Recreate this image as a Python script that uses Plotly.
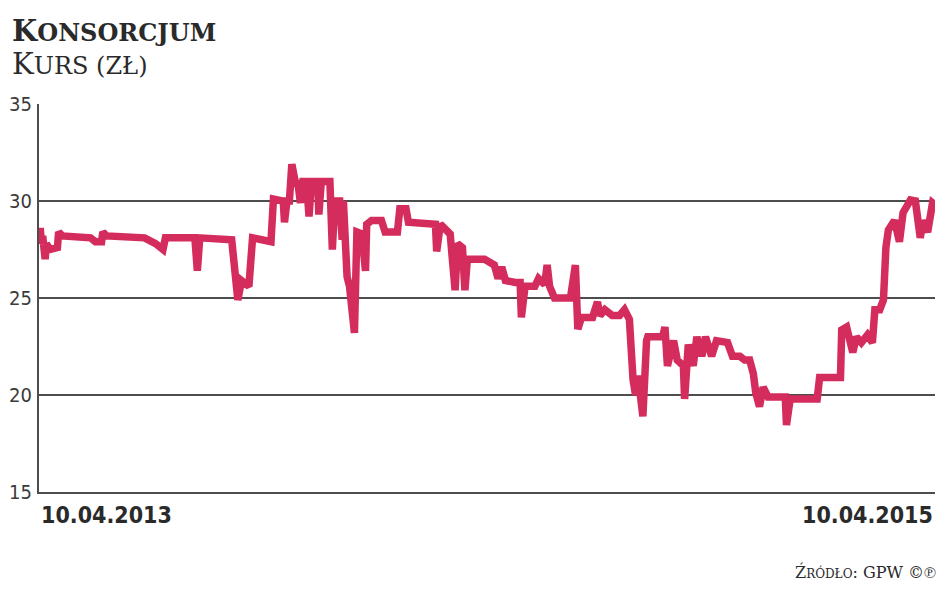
import plotly.graph_objects as go
from datetime import date, timedelta

# ---- data ----
start_date = date(2013, 4, 10)
day_offsets = [
    0, 1, 2, 3, 5, 6, 9, 15, 16, 19, 42, 46, 51, 52, 55, 86, 95, 101, 103,
    127, 129, 131, 157, 160, 162, 165, 171, 174, 184, 189, 191, 199, 200, 202,
    204, 206, 209, 211, 213, 215, 218, 220, 222, 227, 228, 230, 237, 239, 241,
    245, 247, 248, 251, 253, 257, 259, 263, 266, 267, 271, 279, 282, 292, 294,
    299, 301, 323, 324, 327, 335, 339, 341, 345, 347, 349, 363, 371, 374, 377,
    380, 388, 392, 393, 396, 404, 407, 412, 414, 416, 420, 433, 437, 439, 442,
    451, 455, 457, 461, 467, 473, 477, 481, 484, 486, 488, 490, 492, 495, 496,
    508, 510, 512, 517, 520, 525, 526, 529, 533, 536, 540, 543, 548, 552, 561,
    565, 571, 575, 579, 582, 584, 587, 590, 594, 608, 609, 612, 634, 636, 653,
    654, 658, 663, 666, 670, 675, 679, 681, 685, 688, 690, 692, 697, 701, 704,
    707, 710, 714, 716, 718, 720, 724, 728, 730,
]
prices = [
    28.0, 28.6, 27.8, 28.2, 27.0, 27.8, 27.5, 27.6, 28.4, 28.2, 28.1, 27.9, 27.9, 28.4, 28.2, 28.1, 27.8, 27.5, 28.1,
    28.1, 26.4, 28.1, 28.0, 26.3, 24.9, 25.9, 25.6, 28.1, 27.9, 27.9, 30.1, 30.0, 28.9, 30.0,
    30.0, 31.9, 30.9, 30.9, 29.9, 31.0, 31.0, 29.2, 31.0, 31.0, 29.3, 31.0, 31.0, 27.5, 30.0,
    30.0, 28.0, 30.0, 26.1, 25.6, 23.2, 28.4, 28.3, 26.4, 28.8, 29.0, 29.0, 28.4, 28.4, 29.6,
    29.6, 28.9, 28.8, 27.4, 28.8, 28.3, 25.4, 27.8, 27.6, 25.4, 27.0, 27.0, 26.7, 26.0, 26.6,
    25.9, 25.8, 25.8, 24.0, 25.6, 25.6, 26.0, 25.7, 26.7, 25.6, 25.0, 25.0, 26.7, 23.4, 24.0,
    24.0, 24.8, 24.1, 24.4, 24.1, 24.1, 24.4, 23.9, 20.8, 20.0, 21.0, 19.5, 18.9, 22.8, 23.0,
    23.0, 23.5, 21.5, 22.8, 21.8, 21.5, 19.8, 22.6, 21.5, 23.0, 22.0, 23.0, 22.0, 22.8, 22.7,
    22.0, 22.0, 21.8, 21.8, 21.1, 20.1, 19.4, 20.4, 19.9, 19.9, 18.45, 19.8, 19.8, 20.9, 20.9,
    23.35, 23.5, 22.2, 23.0, 22.7, 23.1, 22.7, 24.4, 24.4, 24.9, 27.6, 28.5, 29.0, 27.9, 29.4,
    29.8, 30.05, 30.0, 29.2, 28.1, 29.0, 28.4, 29.9, 29.8,
]
y_ticks = [15, 20, 25, 30, 35]
x_label_left = "10.04.2013"
x_label_right = "10.04.2015"
title_main = "K<span style='font-size:24px'>ONSORCJUM</span>"
title_sub = "K<span style='font-size:24px'>URS (ZŁ)</span>"
source_text = "Ź<span style='font-size:12px'>RÓDŁO</span>: GPW ©℗"

dates = [start_date + timedelta(days=d) for d in day_offsets]
end_date = start_date + timedelta(days=730)

LINE_COLOR = "#d42c5c"
GRID_COLOR = "#4d4d4d"

# page has an 8px body margin; figure coords = page coords - 8
OFF = 8
W, H = 948 - 2 * OFF, 593 - 2 * OFF
L = 39 - OFF
T = 104 - OFF
R = W - (935 - OFF)
B = H - (492 - OFF)
pw, ph = W - L - R, H - T - B

def px(page_x):
    return (page_x - OFF - L) / pw

def py(page_y):
    return (H - B - (page_y - OFF)) / ph

fig = go.Figure()
fig.add_trace(go.Scatter(
    x=dates, y=prices, mode="lines",
    line=dict(color=LINE_COLOR, width=7.5, shape="linear"),
    hoverinfo="skip", showlegend=False,
))

fig.update_layout(
    width=W, height=H,
    margin=dict(l=L, r=R, t=T, b=B, pad=0, autoexpand=False),
    paper_bgcolor="white", plot_bgcolor="white",
    xaxis=dict(
        range=[start_date, end_date], showgrid=False, showticklabels=False,
        showline=True, linecolor=GRID_COLOR, linewidth=2, zeroline=False,
        ticks="", fixedrange=True, automargin=False,
    ),
    yaxis=dict(
        range=[15, 35], tickvals=y_ticks, ticktext=[str(v) for v in y_ticks],
        showgrid=True, gridcolor=GRID_COLOR, gridwidth=1.5,
        showline=True, linecolor=GRID_COLOR, linewidth=2, zeroline=False,
        ticks="outside", ticklen=1, tickcolor="rgba(0,0,0,0)",
        tickfont=dict(family="DejaVu Sans Condensed", size=20, color="#3a3a3a"),
        fixedrange=True, automargin=False,
    ),
    annotations=[
        dict(text="<b>" + title_main + "</b>", x=px(10), y=py(31), xref="paper", yref="paper",
             xanchor="left", yanchor="middle", showarrow=False,
             font=dict(family="DejaVu Serif", size=29, color="#2a2a2a")),
        dict(text=title_sub, x=px(10), y=py(64), xref="paper", yref="paper",
             xanchor="left", yanchor="middle", showarrow=False,
             font=dict(family="DejaVu Serif", size=29, color="#2a2a2a")),
        dict(text="<b>" + x_label_left + "</b>", x=px(39), y=py(515), xref="paper", yref="paper",
             xanchor="left", yanchor="middle", showarrow=False,
             font=dict(family="DejaVu Sans Condensed", size=23, color="#2a2a2a")),
        dict(text="<b>" + x_label_right + "</b>", x=px(935), y=py(515), xref="paper", yref="paper",
             xanchor="right", yanchor="middle", showarrow=False,
             font=dict(family="DejaVu Sans Condensed", size=23, color="#2a2a2a")),
        dict(text=source_text, x=px(938), y=py(572), xref="paper", yref="paper",
             xanchor="right", yanchor="middle", showarrow=False,
             font=dict(family="DejaVu Serif", size=16, color="#2a2a2a")),
    ],
)

fig.write_html("out.html")
